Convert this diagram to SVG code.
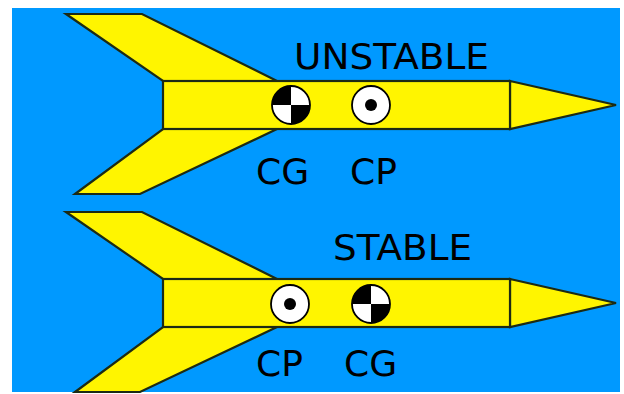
<svg xmlns="http://www.w3.org/2000/svg" width="624" height="394" viewBox="0 0 624 394">
  <style>
    .part { fill: #fff500; stroke: #1c2a14; stroke-width: 2.2; stroke-linejoin: miter; }
    .lbl { font-family: "DejaVu Sans", "Liberation Sans", sans-serif; font-size: 36px; fill: #000; }
    .ring { fill: #fff; stroke: #000; stroke-width: 1.8; }
  </style>
  <defs>
    <!-- centre of gravity marker -->
    <g id="cg">
      <circle r="19" class="ring"/>
      <path d="M0,0 L-19,0 A19,19 0 0 1 0,-19 Z" fill="#000"/>
      <path d="M0,0 L19,0 A19,19 0 0 1 0,19 Z" fill="#000"/>
    </g>
    <!-- centre of pressure marker -->
    <g id="cp">
      <circle r="19" class="ring"/>
      <circle r="6" fill="#000"/>
    </g>
    <!-- rocket outline: fins, body tube, nose cone -->
    <g id="rocket">
      <polygon class="part" points="66,14 142,14 277,81 163,81"/>
      <polygon class="part" points="163,129 277,129 140,194 75,194"/>
      <polygon class="part" points="510,81 616,105 510,129"/>
      <rect class="part" x="163" y="81" width="347" height="48"/>
    </g>
  </defs>

  <rect x="12" y="8" width="608" height="384" fill="#0099ff"/>

  <g id="unstable-rocket">
    <use href="#rocket"/>
    <use href="#cg" x="291" y="105"/>
    <use href="#cp" x="371" y="105"/>
    <text class="lbl" x="294" y="69" textLength="195" lengthAdjust="spacingAndGlyphs">UNSTABLE</text>
    <text class="lbl" x="256" y="184">CG</text>
    <text class="lbl" x="350" y="184">CP</text>
  </g>

  <g id="stable-rocket">
    <use href="#rocket" y="198"/>
    <use href="#cp" x="290" y="304"/>
    <use href="#cg" x="371" y="304"/>
    <text class="lbl" x="333" y="260" textLength="139" lengthAdjust="spacingAndGlyphs">STABLE</text>
    <text class="lbl" x="256" y="376">CP</text>
    <text class="lbl" x="344" y="376">CG</text>
  </g>
</svg>
